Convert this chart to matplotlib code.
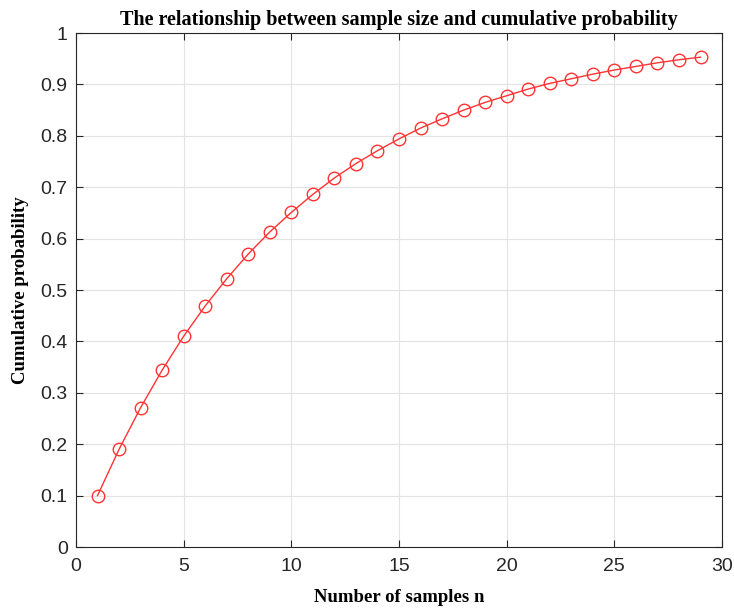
import matplotlib
matplotlib.use("Agg")
import matplotlib.pyplot as plt

# sample sizes and cumulative probability
n_samples = list(range(1, 30))
cum_prob = [0.100, 0.190, 0.271, 0.344, 0.410, 0.469, 0.522, 0.570, 0.613, 0.651,
            0.686, 0.718, 0.746, 0.771, 0.794, 0.815, 0.833, 0.850, 0.865, 0.878,
            0.891, 0.902, 0.911, 0.920, 0.928, 0.935, 0.942, 0.948, 0.953]

xticks = [0, 5, 10, 15, 20, 25, 30]
yticks = [0, 0.1, 0.2, 0.3, 0.4, 0.5, 0.6, 0.7, 0.8, 0.9, 1]

plt.rcParams['font.family'] = ['Liberation Sans', 'DejaVu Sans']

fig = plt.figure(figsize=(7.34, 6.09), dpi=100)
ax = fig.add_axes([0.1035, 0.1018, 0.8802, 0.844])

ax.plot(n_samples, cum_prob, color='#ff3333', linewidth=1.0, marker='o',
        markersize=9, markerfacecolor='none', markeredgecolor='#ff3333', markeredgewidth=1.0)

ax.set_xlim(0, 30)
ax.set_ylim(0, 1)
ax.set_xticks(xticks)
ax.set_yticks(yticks)
ax.set_yticklabels([f"{v:g}" for v in yticks])
ax.tick_params(direction='in', top=True, right=True, length=5, width=0.8,
               color='#262626', labelsize=14, labelcolor='#262626', pad=6)
ax.tick_params(axis='x', pad=8)
ax.grid(True, color='#e3e3e3', linewidth=0.8)
ax.set_axisbelow(True)
for s in ax.spines.values():
    s.set_color('#262626')
    s.set_linewidth(0.8)

ax.set_xlabel("Number of samples n", family='Liberation Serif', fontweight='bold', fontsize=13.5, labelpad=10)
ax.set_ylabel("Cumulative probability", family='Liberation Serif', fontweight='bold', fontsize=13.5, labelpad=8)
ax.set_title("The relationship between sample size and cumulative probability",
             family='Liberation Serif', fontweight='bold', fontsize=14.5, pad=6)

plt.savefig("out.png", dpi=100)
